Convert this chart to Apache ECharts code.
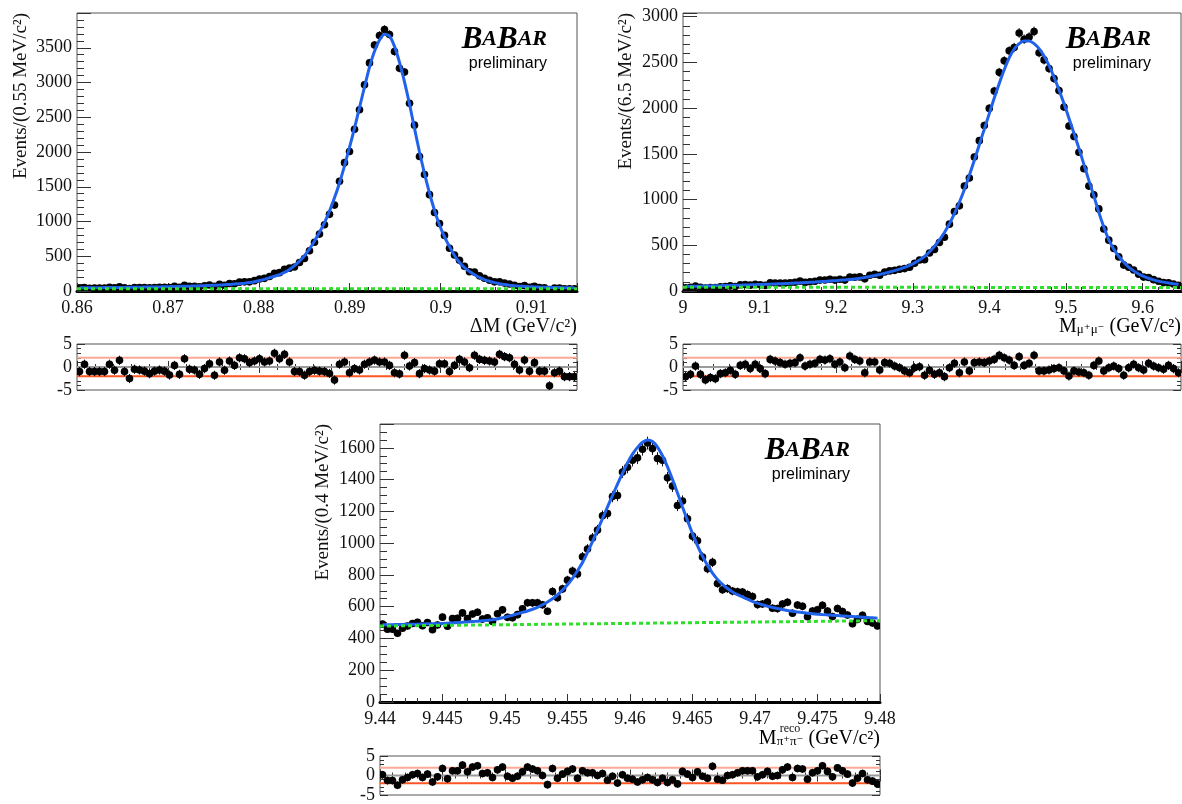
<!DOCTYPE html>
<html>
<head>
<meta charset="utf-8">
<title>BaBar fits with pulls</title>
<script src="https://cdn.jsdelivr.net/npm/echarts@6.0.0/dist/echarts.min.js"></script>
<style>
  html, body { margin: 0; padding: 0; background: #fff; }
  #chart { width: 1182px; height: 804px; }
</style>
</head>
<body>
<div id="chart"></div>
<script>
// ---- panel 1 : Delta M, 100 bins of 0.55 MeV ----
var count1 = [38,50,40,41,41,42,54,46,61,45, 35,50,50,49,46,51,54,54,48,67,
              53,83,66,66,61,74,86,67,96,83, 107,104,127,132,132,149,172,182,208,256,
              264,312,329,346,409,467,580,701,819,954, 1103,1236,1579,1847,2008,2328,2607,2968,3282,3538,
              3676,3762,3691,3446,3204,3150,2700,2386,1935,1676, 1386,1129,972,800,615,518,443,355,278,274,
              218,184,155,132,132,114,101,81,65,78, 55,66,49,47,22,41,43,33,33,32];
var fit1 = [45,46,47,48,48,49,50,51,51,52, 53,54,55,56,57,58,59,61,62,64,
            66,68,70,72,75,77,80,83,86,90, 94,100,106,113,122,134,150,168,190,212,
            236,267,310,365,430,508,605,720,845,985, 1150,1340,1555,1800,2065,2345,2640,2935,3220,3450,
            3610,3695,3670,3520,3290,3010,2690,2340,2000,1690, 1410,1160,950,780,640,510,410,335,280,235,
            195,165,140,120,104,92,83,76,70,66, 62,59,56,54,52,50,49,48,47,46];
var bkg1 = [33, 33];
var pull1 = [-1.0,0.6,-1.0,-1.0,-1.0,-1.0,0.6,-0.7,1.45,-1.0, -2.5,-0.5,-0.65,-0.9,-1.45,-0.9,-0.65,-0.9,-1.75,0.35,
             -1.6,1.8,-0.5,-0.65,-1.6,-0.35,0.7,-1.8,1.1,-0.7, 1.3,0.35,2.0,1.8,0.95,1.3,1.8,1.1,1.3,3.0,
             1.8,2.75,1.1,-1.0,-1.0,-1.8,-1.0,-0.7,-0.9,-1.0, -1.4,-2.85,0.6,1.1,-1.25,-0.35,-0.65,0.6,1.1,1.5,
             1.1,1.1,0.35,-1.25,-1.5,2.55,0.2,0.95,-1.45,-0.35, -0.65,-0.9,0.7,0.7,-1.0,0.35,1.65,1.1,-0.15,2.55,
             1.65,1.45,1.3,1.1,2.75,2.25,2.0,0.6,-0.65,1.5, -0.9,0.95,-0.9,-0.9,-4.1,-1.25,-0.9,-2.1,-2.1,-2.1];

// ---- panel 2 : M(mu+ mu-), 100 bins of 6.5 MeV ----
var count2 = [35,40,53,41,33,39,38,47,50,56, 50,67,71,64,74,68,61,89,88,87,
              87,91,96,108,94,101,106,119,120,128, 119,129,119,152,150,154,133,172,183,172,
              207,220,226,238,245,260,304,339,343,416, 455,530,587,731,868,931,1147,1235,1466,1644,
              1810,1997,2186,2391,2518,2626,2663,2822,2753,2777, 2838,2606,2527,2433,2323,2193,2012,1805,1690,1517,
              1338,1147,1051,898,678,556,464,373,283,260, 229,184,152,148,124,106,92,90,76,61];
var fit2 = [50,51,52,53,54,56,57,58,60,61, 63,64,66,67,69,71,73,75,77,79,
            82,84,87,89,92,95,98,102,105,109, 113,117,121,125,131,139,148,158,169,181,
            194,208,223,240,259,281,307,338,378,430, 490,560,640,735,845,970,1110,1265,1430,1600,
            1770,1940,2110,2270,2420,2550,2645,2705,2735,2735, 2705,2650,2570,2465,2340,2200,2050,1890,1725,1560,
            1385,1210,1040,860,700,560,460,380,315,262, 220,186,160,139,122,108,97,87,79,72];
var bkg2 = [42, 38];
var pull2 = [-2.1,-1.6,0.2,-1.6,-2.8,-2.3,-2.55,-1.45,-1.25,-0.7, -1.6,0.35,0.6,-0.35,0.6,-0.35,-1.45,1.65,1.3,0.95,
             0.6,0.8,0.95,2.0,0.2,0.6,0.8,1.65,1.5,1.8, 0.6,1.1,-0.15,2.4,1.65,1.3,-1.25,1.1,1.1,-0.65,
             0.95,0.8,0.2,-0.15,-0.85,-1.25,-0.15,0.05,-1.8,-0.7, -1.6,-1.25,-2.1,-0.15,0.8,-1.25,1.1,-0.85,0.95,1.1,
             0.95,1.3,1.65,2.55,2.0,1.5,0.35,2.25,0.35,0.8, 2.55,-0.85,-0.85,-0.65,-0.35,-0.15,-0.85,-1.95,-0.85,-1.1,
             -1.25,-1.8,0.35,1.3,-0.85,-0.15,0.2,-0.35,-1.8,-0.15, 0.6,-0.15,-0.65,0.8,0.2,-0.15,-0.5,0.35,-0.35,-1.25];

// ---- panel 3 : M reco(pi+ pi-), 100 bins of 0.4 MeV ----
var count3 = [490,458,458,433,464,478,494,501,480,500, 455,485,534,477,525,527,561,525,554,565,
              522,530,507,556,580,533,530,550,587,625, 624,625,612,571,696,657,712,767,824,806,
              914,963,1032,1082,1172,1186,1293,1300,1448,1478, 1522,1537,1591,1630,1595,1533,1522,1411,1359,1237,
              1265,1154,1044,1015,912,839,879,746,707,714, 698,694,692,677,664,613,617,629,590,588,
              617,628,559,610,602,537,573,581,609,573, 538,589,570,548,493,520,546,507,497,479];
var fit3 = [486,487,487,488,488,489,490,490,491,492, 492,493,494,496,498,500,502,504,506,509,
            511,514,518,523,530,538,546,555,564,573, 584,596,612,630,650,675,704,738,778,826,
            878,942,1010,1082,1155,1228,1300,1372,1440,1505, 1560,1603,1635,1650,1640,1605,1550,1480,1400,1315,
            1228,1142,1060,985,918,860,812,772,740,714, 693,676,661,647,634,622,612,603,595,588,
            582,576,571,567,563,559,556,553,550,548, 546,544,542,540,538,536,534,532,530,528];
var bkg3 = [478, 512];
var pull3 = [0.2,-1.3,-1.3,-2.5,-1.1,-0.5,0.2,0.5,-0.5,0.35, -1.65,-0.35,1.8,-0.85,1.2,1.2,2.65,0.95,2.15,2.5,
             0.5,0.7,-0.5,1.45,2.15,-0.2,-0.7,-0.2,0.95,2.15, 1.65,1.2,0,-2.35,1.8,-0.7,0.35,1.05,1.65,-0.7,
             1.2,0.7,0.7,0,0.5,-1.2,-0.2,-1.95,0.2,-0.7, -0.95,-1.65,-1.1,-0.5,-1.1,-1.8,-0.7,-1.8,-1.1,-2.15,
             1.05,0.35,-0.5,0.95,-0.2,-0.7,2.35,-0.95,-1.2,0, 0.2,0.7,1.2,1.2,1.2,-0.35,0.2,1.05,-0.2,0,
             1.45,2.15,-0.5,1.8,1.65,-0.95,0.7,1.2,2.5,1.05, -0.35,1.95,1.2,0.35,-1.95,-0.7,0.5,-1.1,-1.45,-2.15];

var pullLevels = [2, 0, -2];
var pullColors = ['#ffa894', '#9a9a9a', '#ff5522'];

var panels = [
  {xmin: 0.86, xmax: 0.915, xstep: 0.01, bin: 0.00055, ymax: 4000, ystep: 500, yminor: 5,
   counts: count1, fit: fit1, bkg: bkg1, pulls: pull1, lastX: false},
  {xmin: 9, xmax: 9.65, xstep: 0.1, bin: 0.0065, ymax: 3040, ystep: 500, yminor: 5,
   counts: count2, fit: fit2, bkg: bkg2, pulls: pull2, lastX: false},
  {xmin: 9.44, xmax: 9.48, xstep: 0.005, bin: 0.0004, ymax: 1750, ystep: 200, yminor: 4,
   counts: count3, fit: fit3, bkg: bkg3, pulls: pull3, lastX: true}
];

var SERIF = '"Liberation Serif", "DejaVu Serif", serif';
var SANS = '"Liberation Sans", Arial, sans-serif';
var BLUE = '#2062ec';
var GREEN = '#2ee02a';

var chartDom = document.getElementById('chart');
var myChart = echarts.init(chartDom);

function fmt(v) { return String(parseFloat(v.toFixed(5))); }

// data point with bin-width horizontal bar and vertical error
function pointItem(halfWidth) {
  return function (params, api) {
    var x = api.value(0), y = api.value(1), e = api.value(2);
    var c = api.coord([x, y]);
    var xl = api.coord([x - halfWidth, y])[0];
    var xr = api.coord([x + halfWidth, y])[0];
    var yt = api.coord([x, y + e])[1];
    var yb = api.coord([x, y - e])[1];
    var st = {stroke: '#111', lineWidth: 1};
    return {type: 'group', children: [
      {type: 'line', shape: {x1: xl, y1: c[1], x2: xr, y2: c[1]}, style: st},
      {type: 'line', shape: {x1: c[0], y1: yt, x2: c[0], y2: yb}, style: st},
      {type: 'circle', shape: {cx: c[0], cy: c[1], r: 3.8}, style: {fill: '#000'}}
    ]};
  };
}

var labelStyle = {fontFamily: SERIF, fontSize: 18, color: '#111'};
var tickLine = {color: '#333', width: 1};

var grids = [
  {left: 77, top: 13, width: 500, height: 278},
  {left: 77, top: 344, width: 500, height: 46},
  {left: 683, top: 13, width: 498, height: 278},
  {left: 683, top: 344, width: 498, height: 46},
  {left: 380, top: 424, width: 500, height: 278},
  {left: 380, top: 756, width: 500, height: 46}
].map(function (g) {
  g.show = true; g.borderColor = '#555'; g.borderWidth = 1; g.backgroundColor = 'transparent';
  return g;
});

var xAxes = [], yAxes = [], series = [];

panels.forEach(function (p, k) {
  var gm = 2 * k, gr = 2 * k + 1;
  var centers = p.counts.map(function (c, i) { return p.xmin + p.bin * (i + 0.5); });

  xAxes.push({
    type: 'value', gridIndex: gm, min: p.xmin, max: p.xmax, interval: p.xstep,
    axisLine: {show: true, onZero: false, lineStyle: {color: '#000', width: 3}},
    axisTick: {show: true, inside: true, length: 8, lineStyle: tickLine},
    minorTick: {show: true, splitNumber: 5, length: 4, lineStyle: tickLine},
    splitLine: {show: false},
    axisLabel: Object.assign({margin: 8, showMaxLabel: p.lastX, formatter: fmt}, labelStyle)
  });
  ['bottom', 'top'].forEach(function (pos) {
    xAxes.push({
      type: 'value', gridIndex: gr, position: pos, min: p.xmin, max: p.xmax, interval: p.xstep,
      axisLine: {show: false},
      axisTick: {show: true, inside: true, length: 6, lineStyle: tickLine},
      minorTick: {show: true, splitNumber: 5, length: 3, lineStyle: tickLine},
      splitLine: {show: false},
      axisLabel: {show: false}
    });
  });

  yAxes.push({
    type: 'value', gridIndex: gm, min: 0, max: p.ymax, interval: p.ystep,
    axisLine: {show: false},
    axisTick: {show: true, inside: true, length: 14, lineStyle: tickLine},
    minorTick: {show: true, splitNumber: p.yminor, length: 7, lineStyle: tickLine},
    splitLine: {show: false},
    axisLabel: Object.assign({margin: 5, showMaxLabel: false, formatter: fmt}, labelStyle)
  });
  ['left', 'right'].forEach(function (pos) {
    yAxes.push({
      type: 'value', gridIndex: gr, position: pos, min: -5, max: 5, interval: 5,
      axisLine: {show: false},
      axisTick: {show: true, inside: true, length: 8, lineStyle: tickLine},
      minorTick: {show: true, splitNumber: 5, length: 4, lineStyle: tickLine},
      splitLine: {show: false},
      axisLabel: pos === 'left' ? Object.assign({margin: 5, formatter: fmt}, labelStyle) : {show: false}
    });
  });

  var xi = 3 * k, yi = 3 * k;
  series.push({
    type: 'custom', name: 'data' + k, xAxisIndex: xi, yAxisIndex: yi, clip: true, z: 2,
    renderItem: pointItem(p.bin / 2),
    encode: {x: 0, y: 1},
    data: p.counts.map(function (c, i) { return [centers[i], c, Math.sqrt(c)]; })
  });
  series.push({
    type: 'line', name: 'fit' + k, xAxisIndex: xi, yAxisIndex: yi, z: 3,
    smooth: 0.2, showSymbol: false, silent: true,
    lineStyle: {color: BLUE, width: 3},
    data: p.fit.map(function (f, i) { return [centers[i], f]; })
  });
  series.push({
    type: 'line', name: 'bkg' + k, xAxisIndex: xi, yAxisIndex: yi, z: 4,
    showSymbol: false, silent: true,
    lineStyle: {color: GREEN, width: 3, type: [4, 3]},
    data: [[p.xmin, p.bkg[0]], [p.xmax, p.bkg[1]]]
  });

  pullLevels.forEach(function (lv, j) {
    series.push({
      type: 'line', xAxisIndex: xi + 1, yAxisIndex: yi + 1, z: 1,
      showSymbol: false, silent: true,
      lineStyle: {color: pullColors[j], width: 2},
      data: [[p.xmin, lv], [p.xmax, lv]]
    });
  });
  series.push({
    type: 'custom', name: 'pull' + k, xAxisIndex: xi + 1, yAxisIndex: yi + 1, clip: true, z: 2,
    renderItem: pointItem(p.bin / 2),
    encode: {x: 0, y: 1},
    data: p.pulls.map(function (v, i) { return [centers[i], v, 1]; })
  });
});

var titleRich = {
  t: {fontFamily: SERIF, fontSize: 20, lineHeight: 21, padding: [0, 0, 6, 0], color: '#111'},
  sub: {fontFamily: SERIF, fontSize: 13, lineHeight: 13, color: '#111'}
};

function yTitle(x, y, text) {
  return {type: 'text', x: x, y: y, rotation: Math.PI / 2,
    style: {text: text, font: '19px ' + SERIF, fill: '#111', align: 'right', verticalAlign: 'middle'}};
}

function logo(right, top) {
  return [
    {type: 'text', x: right, y: top + 42,
     style: {text: '{b|B}{s|A}{b|B}{s|AR}', align: 'right', verticalAlign: 'bottom',
       rich: {
         b: {fontFamily: SERIF, fontStyle: 'italic', fontWeight: 'bold', fontSize: 31, lineHeight: 31, color: '#000'},
         s: {fontFamily: SERIF, fontStyle: 'italic', fontWeight: 'bold', fontSize: 22, lineHeight: 22, color: '#000', padding: [0, 0, 1, 0]}
       }}},
    {type: 'text', x: right, y: top + 51,
     style: {text: 'preliminary', font: '16px ' + SANS, fill: '#000', align: 'right', verticalAlign: 'middle'}}
  ];
}

var graphics = [
  yTitle(21, 13, 'Events/(0.55 MeV/c²)'),
  yTitle(626, 13, 'Events/(6.5 MeV/c²)'),
  yTitle(323, 424, 'Events/(0.4 MeV/c²)'),
  {type: 'text', x: 577, y: 327,
   style: {text: 'ΔM (GeV/c²)', font: '20px ' + SERIF, fill: '#111', align: 'right', verticalAlign: 'middle'}},
  {type: 'text', x: 1181, y: 330,
   style: {text: '{t|M}{sub|μ⁺μ⁻}{t| (GeV/c²)}', rich: titleRich, align: 'right', verticalAlign: 'middle'}},
  {type: 'text', x: 880, y: 742,
   style: {text: '{t|M}{sub|π⁺π⁻}{t| (GeV/c²)}', rich: titleRich, align: 'right', verticalAlign: 'middle'}},
  {type: 'text', x: 790, y: 729,
   style: {text: 'reco', font: '12px ' + SERIF, fill: '#111', align: 'center', verticalAlign: 'middle'}}
].concat(logo(547, 13), logo(1151, 13), logo(850, 424));

var option = {
  animation: false,
  backgroundColor: '#ffffff',
  grid: grids,
  xAxis: xAxes,
  yAxis: yAxes,
  series: series,
  graphic: graphics
};

option && myChart.setOption(option);
</script>
</body>
</html>
